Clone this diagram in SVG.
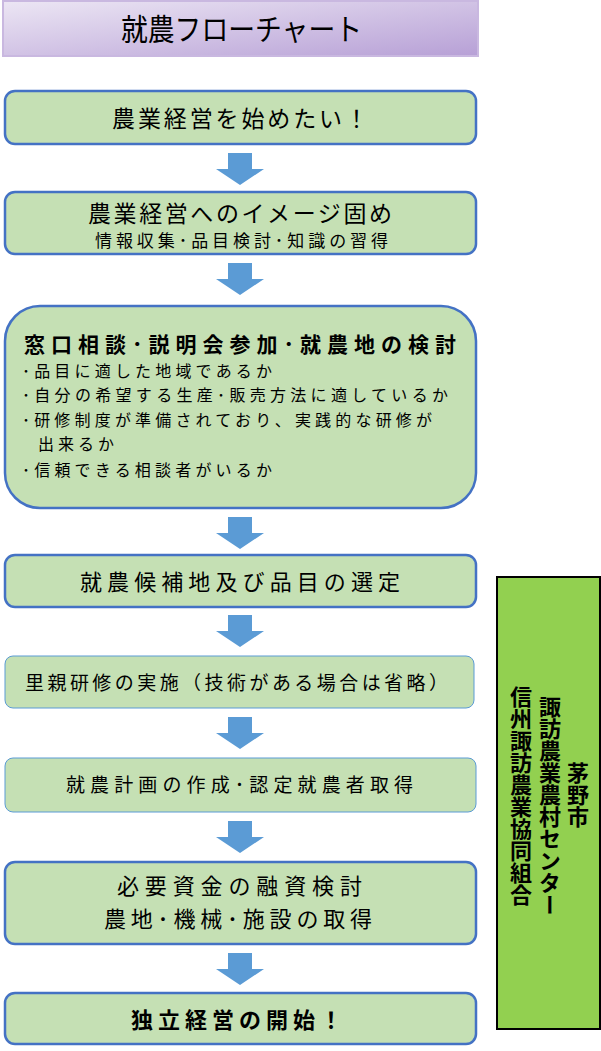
<svg xmlns="http://www.w3.org/2000/svg" width="601" height="1051" viewBox="0 0 601 1051">
<defs>
<linearGradient id="tg" x1="0" y1="0" x2="1" y2="1"><stop offset="0" stop-color="#ece6f4"/><stop offset="1" stop-color="#b7a0d6"/></linearGradient>
<path id="arr" d="M-12,0 H12 V16 H24 L0,32 L-24,16 H-12 Z"/>
</defs>
<style>
text{font-family:"Noto Sans CJK JP","Noto Sans CJK SC",sans-serif;fill:#000}
.b{fill:#c5e0b4;stroke:#4472c4;stroke-width:2.5}
.l{fill:#c5e0b4;stroke:#5b9bd5;stroke-width:1}
.a{fill:#5b9bd5}
.v{writing-mode:vertical-rl;font-weight:bold;font-size:22px}
</style>
<g id="title"><rect x="3" y="1" width="475" height="55" fill="url(#tg)" stroke="#c9b8e0" stroke-width="2"/><text x="121" y="40" font-size="30" textLength="241" lengthAdjust="spacingAndGlyphs">就農フローチャート</text></g>
<g id="connectors">
<use href="#arr" class="a" x="240" y="153"/><use href="#arr" class="a" x="240" y="263"/><use href="#arr" class="a" x="240" y="517"/><use href="#arr" class="a" x="240" y="615"/><use href="#arr" class="a" x="240" y="717"/><use href="#arr" class="a" x="240" y="821"/><use href="#arr" class="a" x="240" y="953"/>
</g>
<g id="n1"><rect class="b" x="5" y="91" width="471" height="53" rx="10"/><text x="112" y="127" font-size="23" textLength="256">農業経営を始めたい！</text></g>
<g id="n2"><rect class="b" x="5" y="192" width="471" height="62" rx="10"/><text x="88" y="222" font-size="23" textLength="304">農業経営へのイメージ固め</text><text x="95" y="247" font-size="17" textLength="293">情報収集･品目検討･知識の習得</text></g>
<g id="n3"><rect class="b" x="5" y="306" width="471" height="202" rx="35"/><text x="24" y="352" font-size="21" font-weight="bold" textLength="432">窓口相談･説明会参加･就農地の検討</text>
<g font-size="16"><text x="22" y="377" textLength="250">･品目に適した地域であるか</text><text x="22" y="401" textLength="426">･自分の希望する生産･販売方法に適しているか</text><text x="22" y="426" textLength="410">･研修制度が準備されており、実践的な研修が</text><text x="38" y="450" textLength="76">出来るか</text><text x="22" y="476" textLength="250">･信頼できる相談者がいるか</text></g></g>
<g id="n4"><rect class="b" x="5" y="555" width="471" height="52" rx="10"/><text x="80" y="590" font-size="22" textLength="320">就農候補地及び品目の選定</text></g>
<g id="n5"><rect class="l" x="5" y="656" width="469" height="52" rx="8"/><text x="25" y="690" font-size="19" textLength="423">里親研修の実施（技術がある場合は省略）</text></g>
<g id="n6"><rect class="l" x="5" y="758" width="471" height="54" rx="8"/><text x="66" y="792" font-size="19" textLength="347">就農計画の作成･認定就農者取得</text></g>
<g id="n7"><rect class="b" x="5" y="862" width="471" height="82" rx="10"/><text x="117" y="894" font-size="22" textLength="245">必要資金の融資検討</text><text x="104" y="927" font-size="22" textLength="268">農地･機械･施設の取得</text></g>
<g id="n8"><rect class="b" x="5" y="993" width="471" height="51" rx="10"/><text x="131" y="1028" font-size="22" font-weight="bold" textLength="211">独立経営の開始！</text></g>
<g id="side"><rect x="497" y="577" width="103" height="452" fill="#92d050" stroke="#000" stroke-width="2"/>
<text class="v" x="578" y="762">茅野市</text><text class="v" x="550" y="696">諏訪農業農村センター</text><text class="v" x="521" y="686">信州諏訪農業協同組合</text></g>
</svg>
